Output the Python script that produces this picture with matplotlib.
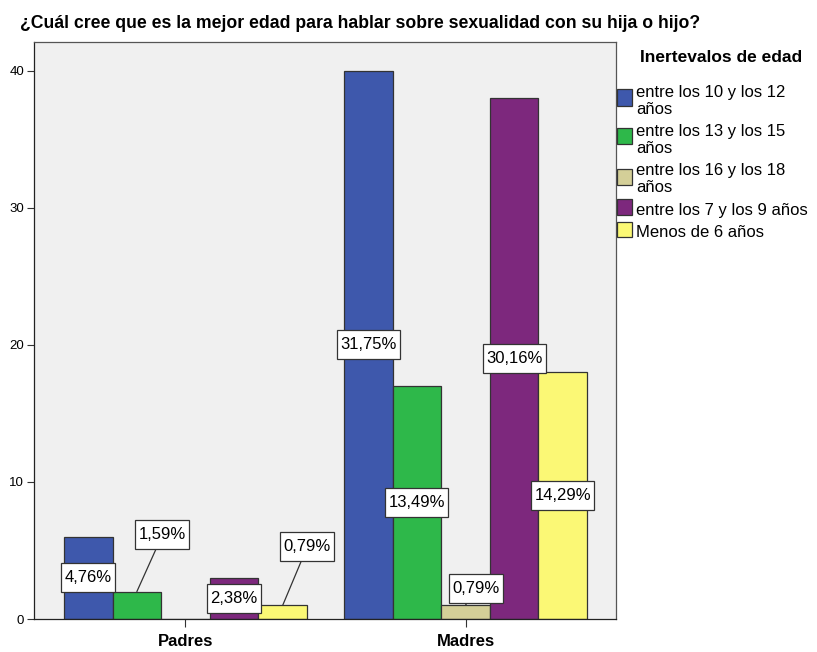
import matplotlib.pyplot as plt
import numpy as np
from matplotlib.patches import Rectangle
from matplotlib.path import Path

# conteos por grupo y por intervalo de edad
grupos = ["Padres", "Madres"]
intervalos = ["entre los 10 y los 12\naños", "entre los 13 y los 15\naños",
              "entre los 16 y los 18\naños", "entre los 7 y los 9 años",
              "Menos de 6 años"]
padres = [6, 2, 0, 3, 1]
madres = [40, 17, 1, 38, 18]
colores = ["#3E58AC", "#2EB84A", "#D4CF98", "#7D287D", "#FBF875"]

plt.rcParams['font.family'] = ['Liberation Sans', 'DejaVu Sans']


def caja_etiqueta(x0, y0, width, height, mutation_size):
    # rectangulo con mas margen vertical que horizontal
    px = 0.2 * mutation_size
    py = 0.42 * mutation_size
    x0, y0 = x0 - px, y0 - py
    x1, y1 = x0 + width + 2 * px, y0 + height + 2 * py
    return Path([(x0, y0), (x1, y0), (x1, y1), (x0, y1), (x0, y0)], closed=True)


fig = plt.figure(figsize=(8.17, 6.52), dpi=100)
ax = fig.add_axes([0.0416, 0.0506, 0.7124, 0.885])
ax.set_facecolor("#F0F0F0")

total = sum(padres) + sum(madres)
w = 0.1736
# desplazamiento de etiquetas que no caben dentro de la barra (dx, y)
fuera = {(0, 1): (0.091, 6.13), (0, 4): (0.0875, 5.26), (1, 2): (0.036, 2.26)}

for g, valores in enumerate([padres, madres]):
    for i, v in enumerate(valores):
        x = g + (i - 2) * w
        ax.bar(x, v, width=w, color=colores[i], edgecolor="#333333", linewidth=0.9, zorder=2)
        if v == 0:
            continue
        txt = f"{100 * v / total:.2f}%".replace(".", ",")
        caja = dict(boxstyle=caja_etiqueta, fc="white", ec="#333333", lw=0.9)
        if (g, i) in fuera:
            dx, ty = fuera[(g, i)]
            ax.annotate(txt, xy=(x, v), xytext=(x + dx, ty), ha="center", va="center",
                        fontsize=12, bbox=caja, zorder=4,
                        arrowprops=dict(arrowstyle="-", color="#333333", lw=0.9,
                                        shrinkA=0, shrinkB=0))
        else:
            ax.text(x, v / 2, txt, ha="center", va="center", fontsize=12, bbox=caja, zorder=4)

ax.set_xlim(-0.541, 1.5375)
ax.set_ylim(0, 42.1)
ax.set_xticks([0, 1])
ax.set_xticklabels(grupos, fontsize=12, fontweight="bold")
ax.set_yticks([0, 10, 20, 30, 40])
ax.tick_params(axis="y", labelsize=9.5, length=5, color="#333333", pad=2)
ax.tick_params(axis="x", length=6, color="#333333", pad=5)
for s in ax.spines.values():
    s.set_color("#555555")
    s.set_linewidth(0.9)
ax.spines["left"].set_color("#222222")
ax.spines["bottom"].set_color("#222222")

fig.text(0.024, 1 - 23 / 652, "¿Cuál cree que es la mejor edad para hablar sobre sexualidad con su hija o hijo?",
         fontsize=12.7, fontweight="bold", va="center")

# leyenda
fig.text(640 / 817, 1 - 57 / 652, "Inertevalos de edad", fontsize=12.5, fontweight="bold", va="center")
lineas = [[97, 114], [136, 153], [175, 192], [215], [237]]
cajas = [(89, 106), (128, 144), (169, 185), (199, 215), (222, 237)]
for i, lab in enumerate(intervalos):
    y0, y1 = cajas[i]
    fig.patches.append(Rectangle((617 / 817, 1 - y1 / 652), 15 / 817, (y1 - y0) / 652,
                                 transform=fig.transFigure, fc=colores[i], ec="#333333", lw=0.9))
    for parte, base in zip(lab.split("\n"), lineas[i]):
        fig.text(636 / 817, 1 - base / 652, parte, fontsize=12, va="baseline")

fig.savefig("out.png", dpi=100)
